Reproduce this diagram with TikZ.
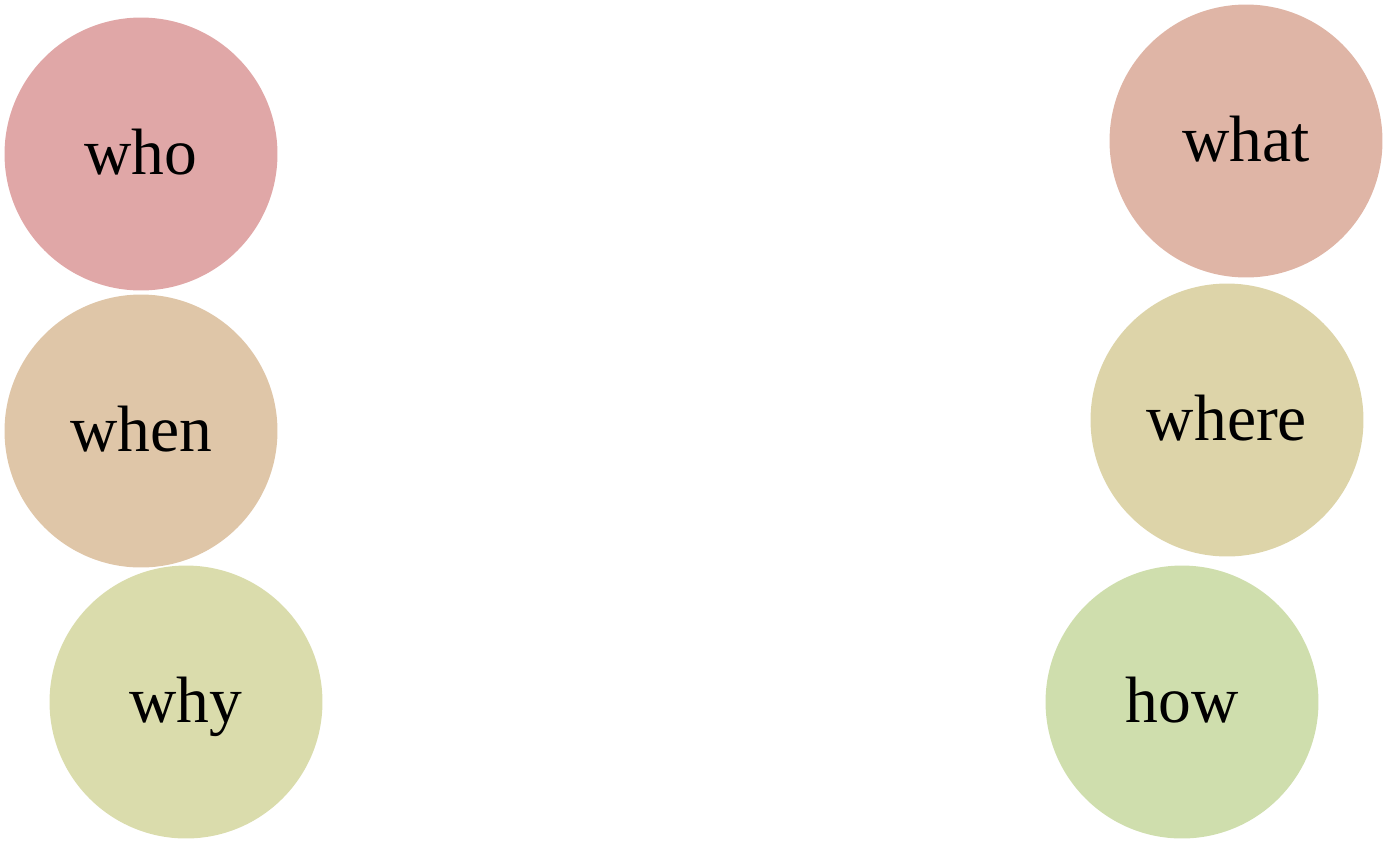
\documentclass[tikz,border=0pt]{standalone}
\usepackage{fontspec}
\setmainfont{Liberation Serif}
\usetikzlibrary{positioning}

\definecolor{whocol}{HTML}{E0A7A7}
\definecolor{whencol}{HTML}{DFC6A8}
\definecolor{whycol}{HTML}{DADCAC}
\definecolor{whatcol}{HTML}{DFB5A6}
\definecolor{wherecol}{HTML}{DDD4A9}
\definecolor{howcol}{HTML}{CFDEAD}

\begin{document}
\begin{tikzpicture}[
  x=0.02cm, y=-0.02cm,
  wnode/.style={circle, minimum size=5.46cm, inner sep=0pt, align=center,
    text height=0.8cm, text depth=0cm,
    font=\fontsize{37.3}{40}\selectfont}
]
\useasboundingbox (0,0) rectangle (1388,843);

% Left column: who, when, why
\node[wnode, fill=whocol] (who) at (141,154) {who};
\node[wnode, fill=whencol] (when) at (141,431) {when};
\node[wnode, fill=whycol] (why) at (186,702) {why};

% Right column: what, where, how
\node[wnode, fill=whatcol] (what) at (1246,141) {what};
\node[wnode, fill=wherecol] (where) at (1227,420) {where};
\node[wnode, fill=howcol] (how) at (1182,702) {how};

\end{tikzpicture}
\end{document}
